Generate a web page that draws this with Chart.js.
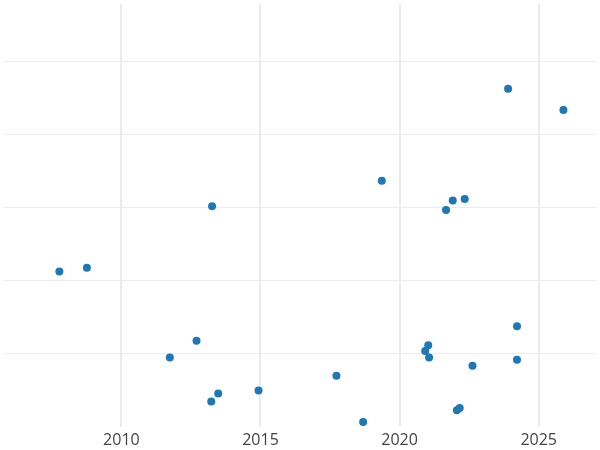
<!DOCTYPE html>
<html><head><meta charset="utf-8">
<script src="https://cdn.jsdelivr.net/npm/chart.js@4"></script>
<style>html,body{margin:0;padding:0;background:#fff}#w{width:600px;height:450px}</style>
</head><body><div id="w"><canvas id="c"></canvas></div>
<script>
const xYears=[2007.77,2008.76,2011.74,2012.70,2013.23,2013.26,2013.48,2014.93,2017.73,2018.69,2019.36,2020.92,2021.03,2021.06,2021.67,2021.91,2022.34,2022.06,2022.16,2022.62,2023.90,2024.22,2024.22,2025.89];
const yValues=[2.13,2.18,0.95,1.18,0.35,3.02,0.46,0.50,0.70,0.07,3.37,1.04,1.12,0.95,2.97,3.10,3.12,0.23,0.26,0.84,4.63,1.38,0.92,4.34];
const xTicks=[2010,2015,2020,2025];
const pts=xYears.map((x,i)=>({x,y:yValues[i]}));
new Chart(document.getElementById('c'),{type:'scatter',
data:{datasets:[{data:pts,backgroundColor:'#1f77b4',borderColor:'#1f77b4',borderWidth:0,pointRadius:4,pointHoverRadius:4}]},
options:{responsive:true,maintainAspectRatio:false,animation:false,layout:{padding:{left:-5,right:-5,top:-5,bottom:0}},
plugins:{legend:{display:false},tooltip:{enabled:false}},
scales:{
x:{type:'linear',min:2005.78,max:2027.06,afterFit:s=>{s.height=23},
 afterBuildTicks:s=>{s.ticks=xTicks.map(v=>({value:v}))},
 grid:{color:'#ebebeb',lineWidth:2,drawTicks:false},border:{display:false},
 ticks:{color:'#444',font:{family:'Open Sans',size:16},padding:4,callback:v=>String(v)}},
y:{min:0,max:5.79,afterFit:s=>{s.width=0},
 afterBuildTicks:s=>{s.ticks=[1,2,3,4,5].map(v=>({value:v}))},
 grid:{color:'#ececec',lineWidth:1,drawTicks:false},border:{display:false},ticks:{display:false}}
}}});
</script></body></html>
